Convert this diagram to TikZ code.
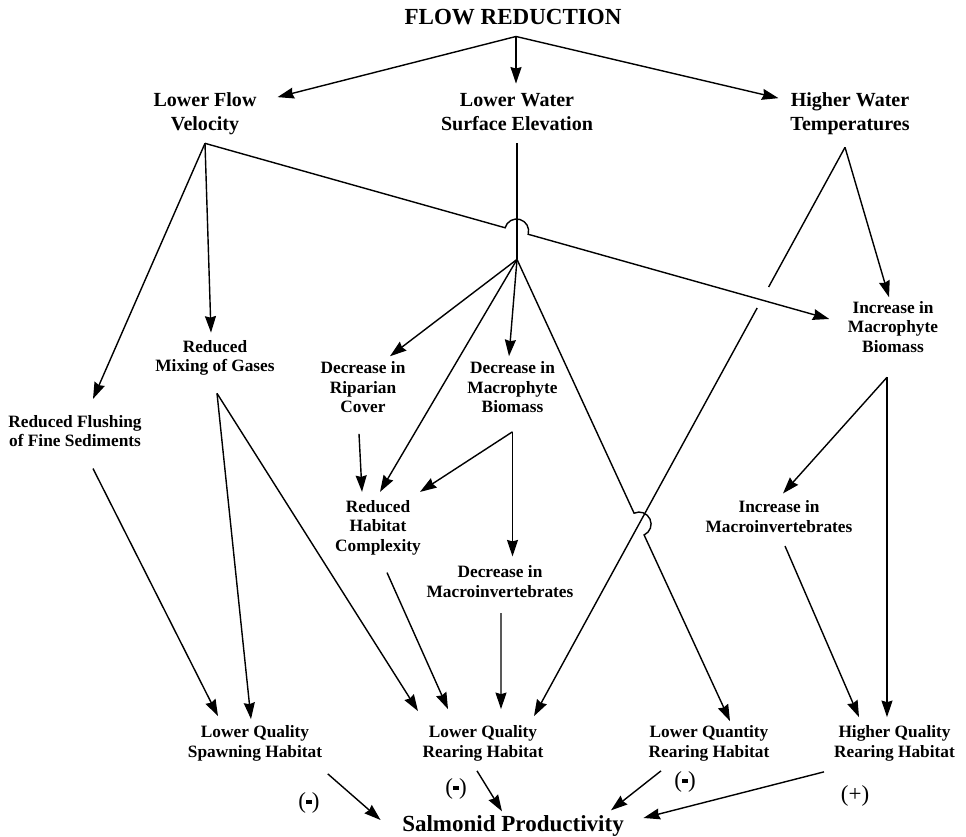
\documentclass[tikz,border=0pt]{standalone}
\usepackage{fontspec}
\setmainfont{Liberation Serif}
\usetikzlibrary{arrows.meta,calc}

\newcommand{\minussign}{\rule[0.2em]{0.26em}{0.15em}}

\begin{document}
\begin{tikzpicture}[
    line width=0.8pt, >={Stealth[length=3.3mm,width=2.2mm,inset=0.3mm]},
    title/.style={inner sep=0pt, font=\fontsize{13.1}{15.7}\selectfont\bfseries},
    effect/.style={align=center, inner sep=0pt, font=\fontsize{11.4}{13.7}\selectfont\bfseries},
    factor/.style={align=center, inner sep=0pt, font=\fontsize{9.85}{11.1}\selectfont\bfseries},
    sign/.style={inner sep=0pt, font=\fontsize{13.1}{15.7}\selectfont}]
  % fixed canvas
  \path[use as bounding box] (0,0) rectangle (19.32,16.72);

  % ================= first order effects =================
  \node[title] (flow) at (10.26,16.38) {FLOW REDUCTION};
  \node[effect] (vel) at (4.10,14.44) {Lower Flow\\Velocity};
  \node[effect] (wat) at (10.34,14.48) {Lower Water\\Surface Elevation};
  \node[effect] (tmp) at (17.00,14.44) {Higher Water\\Temperatures};

  % ================= intermediate factors =================
  \node[factor] (mix) at (4.30,9.56) {Reduced\\Mixing of Gases};
  \node[factor] (rip) at (7.26,8.97) {Decrease in\\Riparian\\Cover};
  \node[factor] (dmac) at (10.25,8.97) {Decrease in\\Macrophyte\\Biomass};
  \node[factor] (imac) at (17.86,10.18) {Increase in\\Macrophyte\\Biomass};
  \node[factor] (flush) at (1.50,8.10) {Reduced Flushing\\of Fine Sediments};
  \node[factor] (cplx) at (7.56,6.17) {Reduced\\Habitat\\Complexity};
  \node[factor] (dinv) at (10.00,5.09) {Decrease in\\Macroinvertebrates};
  \node[factor] (iinv) at (15.58,6.39) {Increase in\\Macroinvertebrates};

  % ================= habitat =================
  \node[factor] (spawn) at (5.10,1.85) {Lower Quality\\Spawning Habitat};
  \node[factor] (lqr) at (9.66,1.85) {Lower Quality\\Rearing Habitat};
  \node[factor] (qty) at (14.18,1.85) {Lower Quantity\\Rearing Habitat};
  \node[factor] (hqr) at (17.89,1.85) {Higher Quality\\Rearing Habitat};
  \node[title] (salm) at (10.26,0.21) {Salmonid Productivity};
  \node[sign] (s1) at (6.18,0.66) {(\minussign)};
  \node[sign] (s2) at (9.12,0.94) {(\minussign)};
  \node[sign] (s3) at (13.70,1.08) {(\minussign)};
  \node[sign] (s4) at (17.10,0.80) {(+)};

  % branch points
  \coordinate (top) at ([xshift=0.06cm,yshift=-0.22cm]flow.south);
  \coordinate (velO) at ([yshift=-0.15cm]vel.south);
  \coordinate (hub) at ([yshift=-2.56cm]wat.south);
  \coordinate (tmpO) at ([xshift=-0.10cm,yshift=-0.23cm]tmp.south);
  \coordinate (mixO) at ([xshift=0.04cm,yshift=-0.34cm]mix.south);
  \coordinate (dmacO) at ([yshift=-0.36cm]dmac.south);
  \coordinate (imacO) at ([xshift=-0.12cm,yshift=-0.48cm]imac.south);
  \coordinate (imacIn) at ([xshift=-0.36cm,yshift=0.16cm]imac.west);
  \coordinate (qtyIn) at ([xshift=0.42cm,yshift=0.08cm]qty.north);
  \coordinate (lqrIn) at ([xshift=1.02cm,yshift=0.18cm]lqr.north);

  % ================= flow reduction =================
  \draw[->] (top) -- ([xshift=1.45cm,yshift=-0.10cm]vel.north);
  \draw[->, shorten >=0.18cm] (top) -- (top |- wat.north);
  \draw[->] (top) -- ([xshift=-1.43cm,yshift=-0.12cm]tmp.north);

  % ================= lower flow velocity =================
  \draw[->] (velO) -- ([xshift=0.36cm,yshift=0.31cm]flush.north);
  \draw[->] (velO) -- ([xshift=-0.08cm,yshift=0.14cm]mix.north);
  % hops over the water surface line
  \draw[->] (velO) -- ($(velO)!0.4807!(imacIn)$)
    arc[start angle=164.3, end angle=-15.7, radius=0.24cm] -- (imacIn);

  % ================= lower water surface elevation =================
  \draw ([yshift=-0.24cm]wat.south) -- (hub);
  \draw[->] (hub) -- ([xshift=0.54cm,yshift=0.10cm]rip.north);
  \draw[->] (hub) -- ([xshift=0.04cm,yshift=0.15cm]cplx.north);
  \draw[->] (hub) -- ([xshift=-0.07cm,yshift=0.10cm]dmac.north);
  \draw[->] (hub) -- ($(hub)!0.5496!(qtyIn)$)
    arc[start angle=114.7, end angle=-65.3, radius=0.24cm] -- (qtyIn);

  % ================= higher water temperatures =================
  \draw[->] (tmpO) -- ([xshift=-0.08cm,yshift=0.07cm]imac.north);
  \draw (tmpO) -- ($(tmpO)!0.2456!(lqrIn)$);
  \draw[->] ($(tmpO)!0.2825!(lqrIn)$) -- (lqrIn);

  % ================= intermediate links =================
  \draw[->] ([xshift=-0.08cm,yshift=-0.40cm]rip.south) -- ([xshift=-0.32cm,yshift=0.15cm]cplx.north);
  \draw[->] (dmacO) -- ([xshift=0.84cm,yshift=0.15cm]cplx.north);
  \draw[->, shorten >=0.17cm] (dmacO) -- (dmacO |- dinv.north);
  \draw[->] (mixO) -- ([xshift=-0.08cm,yshift=0.12cm]spawn.north);
  \draw[->] (mixO) -- ([xshift=-1.30cm,yshift=0.28cm]lqr.north);
  \draw[->] ([xshift=0.36cm,yshift=-0.42cm]flush.south) -- ([xshift=-0.74cm,yshift=0.18cm]spawn.north);
  \draw[->] ([xshift=0.18cm,yshift=-0.34cm]cplx.south) -- ([xshift=-0.70cm,yshift=0.32cm]lqr.north);
  \draw[->] ([xshift=0.02cm,yshift=-0.30cm]dinv.south) -- ([xshift=0.36cm,yshift=0.32cm]lqr.north);
  \draw[->] (imacO) -- ([xshift=0.08cm,yshift=0.13cm]iinv.north);
  \draw[->, shorten >=0.16cm] (imacO) -- (imacO |- hqr.north);
  \draw[->] ([xshift=0.12cm,yshift=-0.26cm]iinv.south) -- ([xshift=-0.71cm,yshift=0.16cm]hqr.north);

  % ================= salmonid productivity =================
  \draw[->] ([xshift=0.10cm,yshift=-0.24cm]spawn.south east) -- ([xshift=-0.42cm,yshift=0.11cm]salm.west);
  \draw[->] ([xshift=-0.12cm,yshift=-0.18cm]lqr.south) -- ([xshift=-0.22cm,yshift=0.06cm]salm.north);
  \draw[->] ([xshift=-0.96cm,yshift=-0.18cm]qty.south) -- ([xshift=1.96cm,yshift=0.08cm]salm.north);
  \draw[->] ([xshift=-1.41cm,yshift=-0.20cm]hqr.south) -- ([xshift=0.38cm,yshift=0.15cm]salm.east);
\end{tikzpicture}
\end{document}
